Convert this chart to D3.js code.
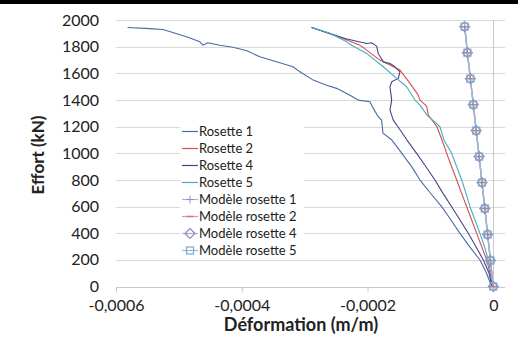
<!DOCTYPE html>
<html><head><meta charset="utf-8">
<script src="https://cdn.jsdelivr.net/npm/d3@7/dist/d3.min.js"></script>
<style>
html,body{margin:0;padding:0;background:#fff;}
svg text{font-family:Lato,"Open Sans",sans-serif;fill:#222;}
</style></head>
<body>
<svg id="chart" width="518" height="341"></svg>
<script>
// ---- data (strain m/m, load kN) ----
const xTicks = [-0.0006, -0.0004, -0.0002, 0];
const yTicks = [0, 200, 400, 600, 800, 1000, 1200, 1400, 1600, 1800, 2000];
const xTickLabels = ["-0,0006", "-0,0004", "-0,0002", "0"];
const yTickLabels = ["0","200","400","600","800","1000","1200","1400","1600","1800","2000"];

const r1Strain = [-0.0005817,-0.0005462,-0.0005255,-0.0005096,-0.0004857,-0.0004666,-0.0004619,-0.0004539,-0.0004348,-0.0004141,-0.0003919,-0.0003712,-0.0003473,-0.0003187,-0.0003075,-0.0002864,-0.0002651,-0.0002491,-0.0002280,-0.0002148,-0.0001962,-0.0001909,-0.0001830,-0.0001776,-0.0001755,-0.0001612,-0.0001469,-0.0001293,-0.0001166,-0.0000991,-0.0000821,-0.0000673,-0.0000530,-0.0000371,-0.0000212,-0.0000116,-0.0000025];
const r1Load   = [1944,1935,1929,1906,1871,1836,1811,1829,1811,1796,1769,1724,1691,1649,1611,1549,1511,1487,1436,1399,1386,1337,1274,1249,1151,1099,1009,896,799,696,599,499,399,296,199,109,0];

const r2Strain = [-0.0002889,-0.0002387,-0.0002121,-0.0001803,-0.0001485,-0.0001325,-0.0001193,-0.0001166,-0.0001060,-0.0001034,-0.0000896,-0.0000816,-0.0000741,-0.0000662,-0.0000582,-0.0000503,-0.0000423,-0.0000344,-0.0000264,-0.0000185,-0.0000105,-0.0000053,-0.0000010];
const r2Load   = [1944,1861,1811,1699,1624,1524,1436,1399,1354,1286,1199,1099,999,899,799,699,599,499,399,299,199,101,0];

const r4Strain = [-0.0002885,-0.0002359,-0.0002014,-0.0001935,-0.0001855,-0.0001830,-0.0001750,-0.0001643,-0.0001564,-0.0001485,-0.0001511,-0.0001616,-0.0001643,-0.0001616,-0.0001643,-0.0001591,-0.0001516,-0.0001373,-0.0001219,-0.0001071,-0.0000928,-0.0000800,-0.0000662,-0.0000530,-0.0000398,-0.0000275,-0.0000159,-0.0000068,-0.0000020];
const r4Load   = [1944,1861,1824,1829,1804,1749,1686,1674,1649,1611,1562,1536,1499,1399,1324,1249,1199,1099,999,899,799,699,599,499,399,299,199,101,0];

const r5Strain = [-0.0002900,-0.0002598,-0.0002332,-0.0002253,-0.0002014,-0.0001750,-0.0001537,-0.0001378,-0.0001246,-0.0001166,-0.0001055,-0.0000848,-0.0000784,-0.0000662,-0.0000582,-0.0000503,-0.0000434,-0.0000371,-0.0000291,-0.0000212,-0.0000140,-0.0000080,-0.0000037,0];
const r5Load   = [1946,1901,1836,1811,1749,1649,1562,1499,1399,1361,1286,1199,1099,999,899,799,699,599,499,399,299,199,101,0];

const modelLoad   = [0,195,390,585,780,975,1170,1365,1560,1755,1950];
const model1Strain = [0,-0.0000045,-0.0000090,-0.0000135,-0.0000180,-0.0000225,-0.0000272,-0.0000318,-0.0000365,-0.0000412,-0.0000455];
const model2Strain = [0,-0.0000045,-0.0000090,-0.0000135,-0.0000180,-0.0000225,-0.0000272,-0.0000318,-0.0000365,-0.0000412,-0.0000455];
const model4Strain = [0,-0.0000045,-0.0000090,-0.0000135,-0.0000180,-0.0000225,-0.0000272,-0.0000318,-0.0000365,-0.0000412,-0.0000455];
const model5Strain = [0,-0.0000045,-0.0000090,-0.0000135,-0.0000180,-0.0000225,-0.0000272,-0.0000318,-0.0000365,-0.0000412,-0.0000455];

const seriesNames = ["Rosette 1","Rosette 2","Rosette 4","Rosette 5","Modèle rosette 1","Modèle rosette 2","Modèle rosette 4","Modèle rosette 5"];

// ---- build ----
const svg = d3.select("#chart");
svg.append("rect").attr("x",0).attr("y",0).attr("width",518).attr("height",4).attr("fill","#000");

const x = d3.scaleLinear().domain([-0.0006, 0.0000186]).range([116, 505]);
const y = d3.scaleLinear().domain([0, 2000]).range([286.5, 20]);

// gridlines
svg.append("g").selectAll("line").data(yTicks.filter(d=>d>0)).join("line")
  .attr("x1",x.range()[0]).attr("x2",x.range()[1])
  .attr("y1",d=>Math.round(y(d))+0.5).attr("y2",d=>Math.round(y(d))+0.5)
  .attr("stroke","#d9d9d9").attr("stroke-width",1);

// vertical axis at x = 0
svg.append("line").attr("x1",Math.round(x(0))+0.5).attr("x2",Math.round(x(0))+0.5)
  .attr("y1",y(2000)).attr("y2",y(0)).attr("stroke","#c8c8c8");

// x axis
const xAxis = d3.axisBottom(x).tickValues(xTicks).tickSize(5).tickFormat((d,i)=>xTickLabels[i]);
const gx = svg.append("g").attr("transform",`translate(0,${Math.round(y(0))+0.5})`).call(xAxis);
gx.select(".domain").attr("stroke","#c8c8c8").attr("d",`M${x.range()[0]},0H${x.range()[1]}`);
gx.selectAll(".tick line").attr("stroke","#c8c8c8");
gx.selectAll(".tick text").attr("font-size","16px").attr("dy","0.95em").attr("fill","#222")
  .style("font-family","Lato, sans-serif");

// y axis labels
const yAxis = d3.axisLeft(y).tickValues(yTicks).tickSize(0).tickPadding(0).tickFormat((d,i)=>yTickLabels[i]);
const gy = svg.append("g").attr("transform","translate(99,0)").call(yAxis);
gy.select(".domain").remove();
gy.selectAll(".tick text").attr("font-size","16px").attr("fill","#222").style("font-family","Lato, sans-serif");

// axis titles
svg.append("text").attr("x",301).attr("y",331).attr("text-anchor","middle")
  .attr("font-size","18px").attr("font-weight","bold").text("Déformation (m/m)");
svg.append("text").attr("transform","translate(44,155) rotate(-90)").attr("text-anchor","middle")
  .attr("font-size","17px").attr("font-weight","bold").text("Effort (kN)");

// legend background
const legX = 180, legY = 122, legStep = 17;
svg.append("rect").attr("x",legX).attr("y",legY).attr("width",124).attr("height",136).attr("fill","#fff");

const line = d3.line().x(d=>x(d[0])).y(d=>y(d[1]));
const zip = (a,b)=>a.map((v,i)=>[v,b[i]]);

const rosettes = [
  {data:zip(r1Strain,r1Load), color:"#4A6AA5"},
  {data:zip(r2Strain,r2Load), color:"#D0504D"},
  {data:zip(r4Strain,r4Load), color:"#4E3F86"},
  {data:zip(r5Strain,r5Load), color:"#46ADC4"}
];
rosettes.forEach(s=>{
  svg.append("path").attr("d",line(s.data)).attr("fill","none")
    .attr("stroke",s.color).attr("stroke-width",1.1).attr("stroke-linejoin","round");
});

const models = [
  {data:zip(model1Strain,modelLoad), line:"#A9B8D6", mark:"#8497C0", shape:"plus"},
  {data:zip(model2Strain,modelLoad), line:"#D99C9A", mark:"#C97A78", shape:"dash"},
  {data:zip(model4Strain,modelLoad), line:"#B3A6CB", mark:"#8C8FBE", shape:"diamond"},
  {data:zip(model5Strain,modelLoad), line:"#9DB9D8", mark:"#7AAAD2", shape:"square"}
];
function drawMarker(g, shape, cx, cy, color){
  if(shape==="plus"){
    g.append("path").attr("d",`M${cx-4},${cy}H${cx+4}M${cx},${cy-4}V${cy+4}`).attr("stroke",color).attr("stroke-width",1);
  } else if(shape==="dash"){
    g.append("path").attr("d",`M${cx-3.5},${cy}H${cx+3.5}`).attr("stroke",color).attr("stroke-width",1.5);
  } else if(shape==="diamond"){
    g.append("path").attr("d",`M${cx},${cy-5}L${cx+5},${cy}L${cx},${cy+5}L${cx-5},${cy}Z`).attr("fill","none").attr("stroke",color).attr("stroke-width",1.2);
  } else if(shape==="square"){
    g.append("rect").attr("x",cx-3.5).attr("y",cy-3.5).attr("width",7).attr("height",7).attr("fill","none").attr("stroke",color).attr("stroke-width",1.2);
  }
}
models.forEach(s=>{
  svg.append("path").attr("d",line(s.data)).attr("fill","none").attr("stroke",s.line).attr("stroke-width",1.3);
});
models.forEach(s=>{
  const g = svg.append("g");
  s.data.forEach(d=>drawMarker(g, s.shape, x(d[0]), y(d[1]), s.mark));
});

// legend entries
const legColors = ["#4A6AA5","#D0504D","#4E3F86","#46ADC4","#A9B8D6","#D99C9A","#B3A6CB","#9DB9D8"];
const lg = svg.append("g");
seriesNames.forEach((name,i)=>{
  const cy = legY + 9.5 + i*legStep;
  lg.append("line").attr("x1",legX+2).attr("x2",legX+18).attr("y1",cy).attr("y2",cy)
    .attr("stroke",legColors[i]).attr("stroke-width",1.2);
  if(i>=4) drawMarker(lg, models[i-4].shape, legX+10, cy, models[i-4].mark);
  lg.append("text").attr("x",legX+19).attr("y",cy).attr("dy","0.35em")
    .attr("font-size","13px").attr("fill","#333").text(name);
});
</script>
</body></html>
